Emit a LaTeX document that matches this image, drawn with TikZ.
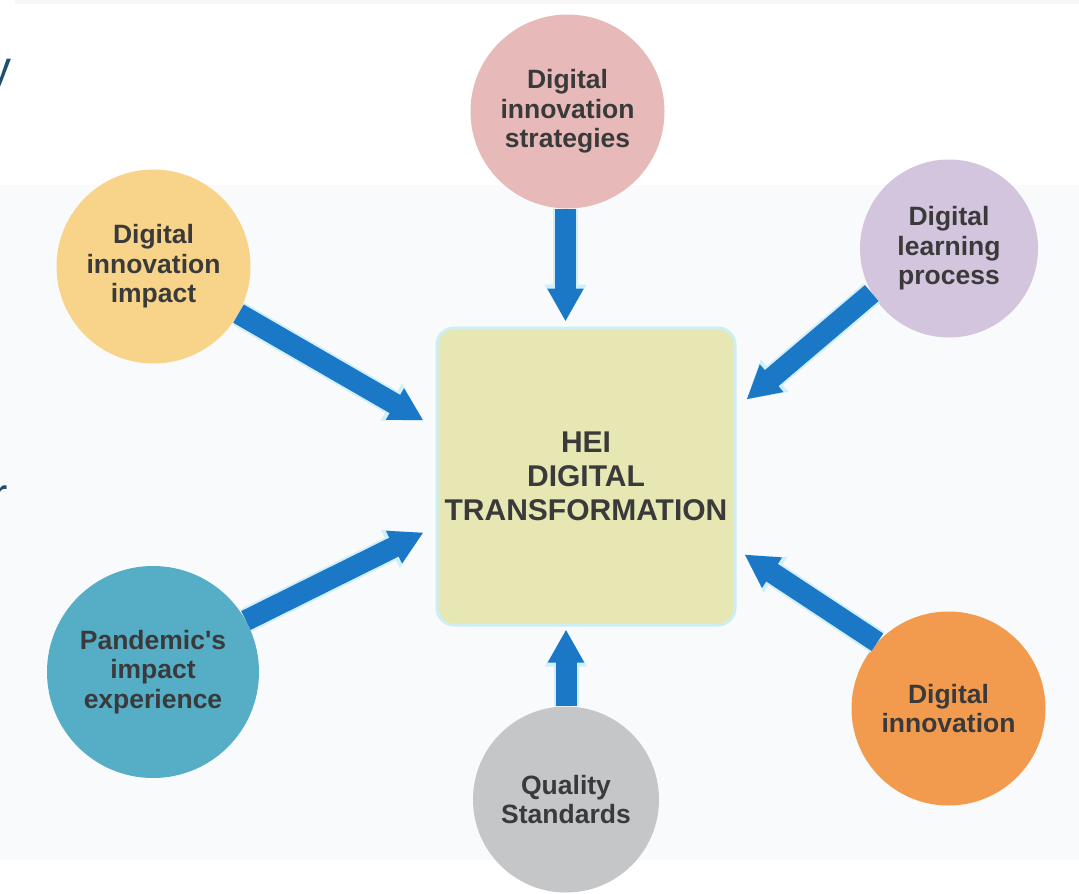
\documentclass[tikz,border=0pt]{standalone}
\usepackage{fontspec}
\setmainfont{Liberation Sans}
\usetikzlibrary{arrows.meta}

\definecolor{bandbg}{HTML}{F9FAFB}
\definecolor{stripbg}{HTML}{F6F6F7}
\definecolor{hubfill}{HTML}{E6E7B3}
\definecolor{hubglow}{HTML}{CDEFF4}
\definecolor{arrowblue}{HTML}{1A78C6}
\definecolor{arrowglow}{HTML}{CFEFFA}
\definecolor{labelgray}{HTML}{3A3A3A}
\definecolor{slideblue}{HTML}{1F4E6E}
\definecolor{cpink}{HTML}{E8B9B9}
\definecolor{clavender}{HTML}{D4C5DE}
\definecolor{cyellow}{HTML}{F8D48A}
\definecolor{cteal}{HTML}{56ADC6}
\definecolor{cgray}{HTML}{C5C6C8}
\definecolor{corange}{HTML}{F29B4F}

\tikzset{
  topic/.style={circle, inner sep=0pt, minimum size=#1, align=center,
    text=labelgray, font=\bfseries\fontsize{26.5}{29.5}\selectfont},
  hubbox/.style={rectangle, rounded corners=17pt, fill=hubfill,
    draw=hubglow, line width=3pt, minimum width=298pt, minimum height=297pt,
    align=center, text=labelgray, font=\bfseries\fontsize{30}{34}\selectfont},
  feed/.style={arrowblue, line width=21pt,
    -{Triangle[width=34pt,length=33pt]},
    preaction={draw=arrowglow, line width=25pt,
      -{Triangle[width=40pt,length=37pt]}}},
  edgeglyph/.style={text=slideblue, inner sep=0pt,
    font=\fontsize{46}{46}\selectfont}
}

\begin{document}
\begin{tikzpicture}[x=1pt,y=-1pt]
  \useasboundingbox (0,0) rectangle (1079,894);
  \clip (0,0) rectangle (1079,894);

  % page background: white with a pale band behind the diagram
  \fill[white] (0,0) rectangle (1079,894);
  \fill[stripbg] (15,0) rectangle (1079,4);
  \fill[bandbg] (0,185) rectangle (1079,860);

  % slide lettering running off the left edge
  \node[edgeglyph, anchor=base west] (ltry) at (-12,83) {y};
  \node[edgeglyph, anchor=base west] (ltrr) at (-8,510) {r};

  % central box
  \node[hubbox] (hub) at (586,476.5) {HEI\\DIGITAL\\TRANSFORMATION};

  % surrounding topics
  \node[topic=194pt, fill=cpink]     (strat)   at (567.5,111.5) {Digital\\innovation\\strategies};
  \node[topic=178pt, fill=clavender] (learn)   at (949,248.5)   {Digital\\learning\\process};
  \node[topic=194pt, fill=cyellow]   (impact)  at (153.5,266.5) {Digital\\innovation\\impact};
  \node[topic=212pt, fill=cteal]     (pandem)  at (153,672)     {Pandemic\textquotesingle s\\impact\\experience};
  \node[topic=186pt, fill=cgray]     (quality) at (566,799.5)   {Quality\\Standards};
  \node[topic=194pt, fill=corange]   (innov)   at (948.5,708.5) {Digital\\innovation};

  % arrows into the central box
  \draw[feed, shorten >=5pt] ([xshift=-2pt]strat.south) -- ([xshift=-2pt]strat.south |- hub.north);
  \draw[feed] (learn.210) -- ([xshift=10pt,yshift=77pt]hub.east);
  \draw[feed] (impact.-29) -- ([xshift=-12pt,yshift=56pt]hub.west);
  \draw[feed] (pandem.29) -- ([xshift=-12pt,yshift=-56pt]hub.west);
  \draw[feed, shorten >=3pt] (quality.north) -- (quality.north |- hub.south);
  \draw[feed] (innov.137) -- ([xshift=8pt,yshift=-78pt]hub.east);
\end{tikzpicture}
\end{document}
